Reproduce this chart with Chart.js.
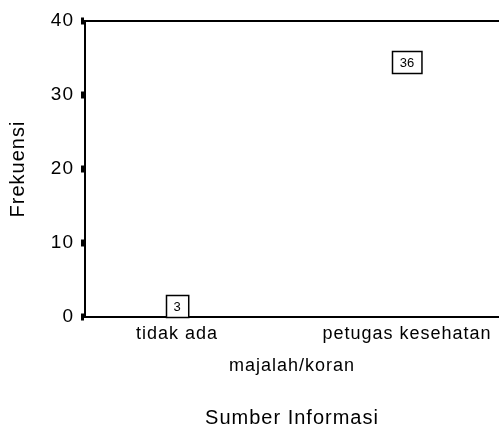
<!DOCTYPE html>
<html>
<head>
<meta charset="utf-8">
<script src="https://cdn.jsdelivr.net/npm/chart.js@4.4.1/dist/chart.umd.min.js"></script>
<style>
  html, body { margin: 0; padding: 0; background: #fff; }
  #wrap { width: 499px; height: 428px; }
</style>
</head>
<body>
<div id="wrap"><canvas id="freqChart"></canvas></div>
<script>
// data
var categories = ['tidak ada', 'majalah/koran', 'petugas kesehatan'];
var frekuensi = [3, null, 36];
var yTicks = [0, 10, 20, 30, 40];

var FONT = '"Liberation Sans", Arial, sans-serif';

// labels on alternate rows, like the original
function tickLabel(i) {
    if (i % 2 == 1) return ['', categories[i]];
    return categories[i];
}

var spacingPlugin = {
    id: 'spacing',
    beforeLayout: function(chart) { chart.ctx.letterSpacing = '1px'; },
    beforeDraw: function(chart) { chart.ctx.letterSpacing = '1px'; }
};

// boxed value labels hanging under each (invisible) point
var boxLabels = {
    id: 'boxLabels',
    afterDatasetsDraw: function(chart) {
        var ctx = chart.ctx;
        var meta = chart.getDatasetMeta(0);
        ctx.save();
        ctx.letterSpacing = '0px';
        ctx.font = '13px ' + FONT;
        ctx.textAlign = 'center';
        ctx.textBaseline = 'middle';
        meta.data.forEach(function(pt, i) {
            var v = frekuensi[i];
            if (v == null) return;
            var txt = String(v);
            var w = ctx.measureText(txt).width + 15;
            var h = 22;
            var x = Math.round(pt.x - w / 2) + 0.5;
            var y = Math.round(pt.y) + 0.5;
            ctx.fillStyle = '#fff';
            ctx.fillRect(x, y, w, h);
            ctx.lineWidth = 1.5;
            ctx.strokeStyle = '#000';
            ctx.strokeRect(x, y, w, h);
            ctx.fillStyle = '#000';
            ctx.fillText(txt, pt.x, y + h / 2 + 1);
        });
        ctx.restore();
    }
};

Chart.defaults.color = '#000';
Chart.defaults.font.family = FONT;

var points = categories.map(function(c, i) {
    return { x: i + 1, y: frekuensi[i] };
});

new Chart(document.getElementById('freqChart'), {
    type: 'scatter',
    data: {
        datasets: [{
            label: 'Frekuensi',
            data: points,
            pointRadius: 0,
            pointHoverRadius: 0,
            showLine: false
        }]
    },
    options: {
        responsive: true,
        maintainAspectRatio: false,
        animation: false,
        events: [],
        layout: { padding: { top: 21, right: 0, bottom: 0, left: 0 } },
        plugins: {
            legend: { display: false },
            tooltip: { enabled: false }
        },
        scales: {
            x: {
                type: 'linear',
                min: 0.2,
                max: 3.8,
                afterBuildTicks: function(scale) {
                    scale.ticks = categories.map(function(c, i) { return { value: i + 1 }; });
                },
                afterFit: function(scale) { scale.height = 111; },
                grid: { display: false, drawTicks: false },
                border: { display: true, color: '#000', width: 2 },
                ticks: {
                    autoSkip: false,
                    maxRotation: 0,
                    padding: 1,
                    font: { size: 18, lineHeight: '32px' },
                    callback: function(value) {
                        return tickLabel(Math.round(value) - 1);
                    }
                },
                title: {
                    display: true,
                    text: 'Sumber Informasi',
                    font: { size: 20, lineHeight: 1 },
                    padding: { top: 0, bottom: 0 }
                }
            },
            y: {
                min: 0,
                max: 40,
                afterBuildTicks: function(scale) {
                    scale.ticks = yTicks.map(function(v) { return { value: v }; });
                },
                afterFit: function(scale) { scale.width = 85; },
                grid: {
                    drawOnChartArea: true,
                    color: function(c) { return c.tick && c.tick.value == 40 ? '#000' : 'rgba(0,0,0,0)'; },
                    lineWidth: 2,
                    tickColor: '#000',
                    tickLength: 4,
                    tickWidth: 7
                },
                border: { display: true, color: '#000', width: 2 },
                ticks: {
                    padding: 7,
                    font: { size: 19 }
                },
                title: {
                    display: true,
                    text: 'Frekuensi',
                    font: { size: 20, lineHeight: 1.2 },
                    padding: { top: 6, bottom: 0 }
                }
            }
        }
    },
    plugins: [spacingPlugin, boxLabels]
});
</script>
</body>
</html>
